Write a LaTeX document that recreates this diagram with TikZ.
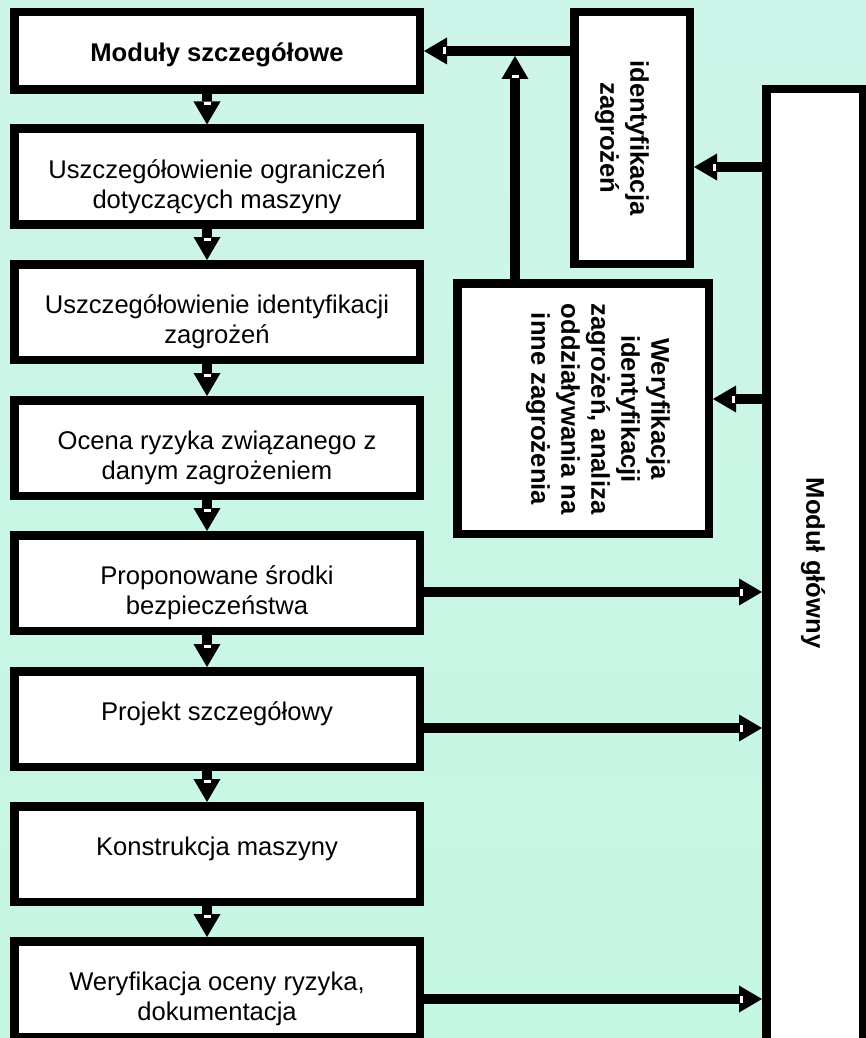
\documentclass[tikz,border=0pt]{standalone}
\usepackage{fontspec}
\setmainfont{Liberation Sans}
\usetikzlibrary{arrows.meta,calc}
\definecolor{bgtop}{RGB}{206,245,233}
\definecolor{bgbot}{RGB}{198,247,226}
\begin{document}
\begin{tikzpicture}[x=1pt,y=-1pt,
  box/.style={draw=black,fill=white,line width=8.5pt,inner sep=0pt},
  lbox/.style={box,minimum width=405.5pt,minimum height=95.5pt},
  conn/.style={draw=black,line width=10pt,-{Triangle[length=23pt,width=27pt,line width=0pt]}},
  lbl/.style={font=\fontsize{25.6}{30}\selectfont,align=center,inner sep=0pt,anchor=north},
  rlbl/.style={font=\fontsize{25.6}{30}\selectfont\bfseries,align=center,inner sep=0pt,rotate=-90},
  notch/.style={fill=white}]
\useasboundingbox (0,0) rectangle (866,1038);
\clip (0,0) rectangle (866,1038);
\shade[top color=bgtop,bottom color=bgbot] (0,0) rectangle (866,1038);
% left column
\node[box,minimum width=405.5pt,minimum height=77.5pt] (b1) at (217,51) {};
\node[lbox] (b2) at (217,176.5) {};
\node[lbox] (b3) at (217,312) {};
\node[lbox] (b4) at (217,448) {};
\node[lbox] (b5) at (217,583) {};
\node[lbox] (b6) at (217,719) {};
\node[lbox] (b7) at (217,854) {};
\node[lbox] (b8) at (217,989) {};
% right side
\node[box,minimum width=115.5pt,minimum height=251.5pt] (idz) at (632,138) {};
\node[box,minimum width=251.5pt,minimum height=250.5pt] (ver) at (583,408.5) {};
\node[box,minimum width=96.5pt,minimum height=966.5pt] (main) at (814.5,572.5) {};
% texts
\node[lbl] (t1) at ($(b1.north)+(0,29.3)$) {\rule{0pt}{24pt}\textbf{Moduły szczegółowe}};
\node[lbl] (t2) at ($(b2.north)+(0,29.3)$) {\rule{0pt}{24pt}Uszczegółowienie ograniczeń\\dotyczących maszyny};
\node[lbl] (t3) at ($(b3.north)+(0,29.3)$) {\rule{0pt}{24pt}Uszczegółowienie identyfikacji\\zagrożeń};
\node[lbl] (t4) at ($(b4.north)+(0,29.3)$) {\rule{0pt}{24pt}Ocena ryzyka związanego z\\danym zagrożeniem};
\node[lbl] (t5) at ($(b5.north)+(0,29.3)$) {\rule{0pt}{24pt}Proponowane środki\\bezpieczeństwa};
\node[lbl] (t6) at ($(b6.north)+(0,29.3)$) {\rule{0pt}{24pt}Projekt szczegółowy};
\node[lbl] (t7) at ($(b7.north)+(0,29.3)$) {\rule{0pt}{24pt}Konstrukcja maszyny};
\node[lbl] (t8) at ($(b8.north)+(0,29.3)$) {\rule{0pt}{24pt}Weryfikacja oceny ryzyka,\\dokumentacja};
\node[rlbl] (t9) at (622,138) {identyfikacja\\zagrożeń};
\node[rlbl] (t10) at (598,409) {Weryfikacja\\identyfikacji\\zagrożeń, analiza\\oddziaływania na\\inne zagrożenia};
\node[rlbl] (t11) at (813,563) {Moduł główny};
% helper coordinates
\coordinate (ax) at (207,0);
\coordinate (vx) at (515,0);
\coordinate (j) at (515,56);
\coordinate (y1) at (0,167);
\coordinate (y2) at (0,399);
\coordinate (y5) at (0,592);
\coordinate (y6) at (0,728);
\coordinate (y8) at (0,999);
% down arrows
\draw[conn] (b1.south -| ax) -- (b2.north -| ax);
\draw[conn] (b2.south -| ax) -- (b3.north -| ax);
\draw[conn] (b3.south -| ax) -- (b4.north -| ax);
\draw[conn] (b4.south -| ax) -- (b5.north -| ax);
\draw[conn] (b5.south -| ax) -- (b6.north -| ax);
\draw[conn] (b6.south -| ax) -- (b7.north -| ax);
\draw[conn] (b7.south -| ax) -- (b8.north -| ax);
% to main
\draw[conn] (b5.east |- y5) -- (main.west |- y5);
\draw[conn] (b6.east |- y6) -- (main.west |- y6);
\draw[conn] (b8.east |- y8) -- (main.west |- y8);
% from main
\draw[conn] (main.west |- y1) -- (idz.east |- y1);
\draw[conn] (main.west |- y2) -- (ver.east |- y2);
% top
\draw[conn] (idz.west |- b1.east) -- (b1.east);
\draw[conn] (ver.north -| vx) -- (j);
% white notches in arrow heads
\foreach \n in {b2,b3,b4,b5,b6,b7,b8}
  \fill[notch] ($(\n.north -| ax)+(-3.5,-22)$) rectangle ++(7,3);
\foreach \yy in {y5,y6,y8}
  \fill[notch] ($(main.west |- \yy)+(-22,-3.5)$) rectangle ++(3,7);
\fill[notch] ($(idz.east |- y1)+(19,-3.5)$) rectangle ++(3,7);
\fill[notch] ($(ver.east |- y2)+(19,-3.5)$) rectangle ++(3,7);
\fill[notch] ($(b1.east)+(19,-3.5)$) rectangle ++(3,7);
\fill[notch] ($(j)+(-3.5,19)$) rectangle ++(7,3);
\end{tikzpicture}
\end{document}
